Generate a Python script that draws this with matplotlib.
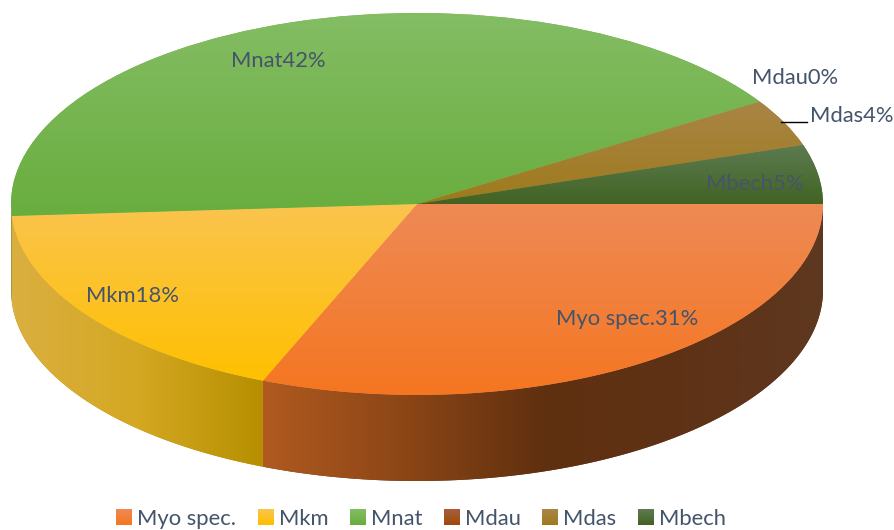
import numpy as np
import matplotlib
matplotlib.use("Agg")
import matplotlib.pyplot as plt
from matplotlib.colors import LinearSegmentedColormap
from matplotlib.image import BboxImage
from matplotlib.patches import Polygon, Patch

# parts du camembert
noms = ["Myo spec.", "Mkm", "Mnat", "Mdau", "Mdas", "Mbech"]
valeurs = [31.2, 17.8, 42, 0, 4, 5]
etiquettes = ["Myo spec.31%", "Mkm18%", "Mnat42%", "Mdau0%", "Mdas4%", "Mbech5%"]

# degrades du dessus (haut -> bas)
haut = ["#EE8A55", "#FAC44E", "#84BD64", "#A85E3A", "#A98546", "#5C7C52"]
bas = ["#F57621", "#FFC000", "#69AD3E", "#A0480E", "#9E7A1C", "#426322"]
legende = ["#F58040", "#FEC52E", "#78B552", "#A4522A", "#A38030", "#4E6E3A"]

# degrades des cotes (gauche -> droite)
cotes = {
    0: ["#B05A20", "#8C4616", "#60300F", "#5E3216", "#5E3820"],
    1: ["#DBAF40", "#D4A822", "#B68F00"],
    2: ["#8F8A3A", "#A89A3C"],
}

plt.rcParams["font.family"] = ["Lato", "DejaVu Sans"]
couleur_texte = "#44546A"
L, H = 894, 530

fig = plt.figure(figsize=(L / 100, H / 100), dpi=100)
ax = fig.add_axes([0, 0, 1, 1])

wedges, _ = ax.pie(
    valeurs,
    colors=legende,
    startangle=0,
    counterclock=False,
    wedgeprops={"linewidth": 0},
)


def degrade(patch, couleurs, extent, vertical, zorder):
    cmap = LinearSegmentedColormap.from_list("d", couleurs)
    g = np.linspace(0, 1, 256)
    g = g.reshape(-1, 1) if vertical else g.reshape(1, -1)
    im = ax.imshow(g, cmap=cmap, extent=extent, aspect="auto", origin="upper",
                   interpolation="bilinear", zorder=zorder)
    im.set_clip_path(patch)


profondeur = 86 / 191

# cotes visibles
for i, w in enumerate(wedges):
    t1 = max(w.theta1, -180)
    t2 = min(w.theta2, 0)
    if t2 <= t1 or i not in cotes:
        continue
    t = np.radians(np.linspace(t1, t2, 200))
    x = np.cos(t)
    y = np.sin(t)
    pts = np.r_[np.c_[x, y], np.c_[x[::-1], y[::-1] - profondeur]]
    poly = Polygon(pts, closed=True, facecolor=cotes[i][-1], linewidth=0, zorder=1)
    ax.add_patch(poly)
    degrade(poly, cotes[i], [x.min(), x.max(), y.min() - profondeur, y.max()], False, 1.5)

# dessus
for i, w in enumerate(wedges):
    if valeurs[i] == 0:
        continue
    b = w.get_path().get_extents()
    degrade(w, [haut[i], bas[i]], [b.x0, b.x1, b.y0, b.y1], True, 2)

# repere en pixels du modele : centre (417, 204), rayons 406 et 191
ax.set_aspect("auto")
ax.set_xlim((0 - 417) / 406, (L - 417) / 406)
ax.set_ylim((204 - H) / 191, 204 / 191)
ax.axis("off")

# etiquettes
pos = [(627, 319), (132, 296), (278, 61), (795, 78), (852, 116), (755, 184)]
for txt, (px, py) in zip(etiquettes, pos):
    fig.text(px / L, 1 - py / H, txt, color=couleur_texte, fontsize=15.8,
             ha="center", va="center", zorder=5)

fig.add_artist(plt.Line2D([781 / L, 807 / L], [1 - 122 / H, 1 - 122 / H],
                          color="black", linewidth=1))

poignees = [Patch(facecolor=c, linewidth=0) for c in legende]
leg = fig.legend(poignees, noms, loc="lower center", bbox_to_anchor=(0.471, -0.035), ncol=6,
                 frameon=False, fontsize=15.8, labelcolor=couleur_texte,
                 handlelength=0.7, handleheight=0.7, handletextpad=0.25, columnspacing=0.99)

# carres de legende en degrade
fig.canvas.draw()
for i, p in enumerate(leg.get_patches()):
    cmap = LinearSegmentedColormap.from_list("l", [haut[i], bas[i]])
    im = BboxImage(p.get_window_extent(), cmap=cmap, zorder=10)
    im.set_data(np.linspace(0, 1, 32).reshape(-1, 1))
    fig.add_artist(im)

fig.savefig("out.png", dpi=100)
